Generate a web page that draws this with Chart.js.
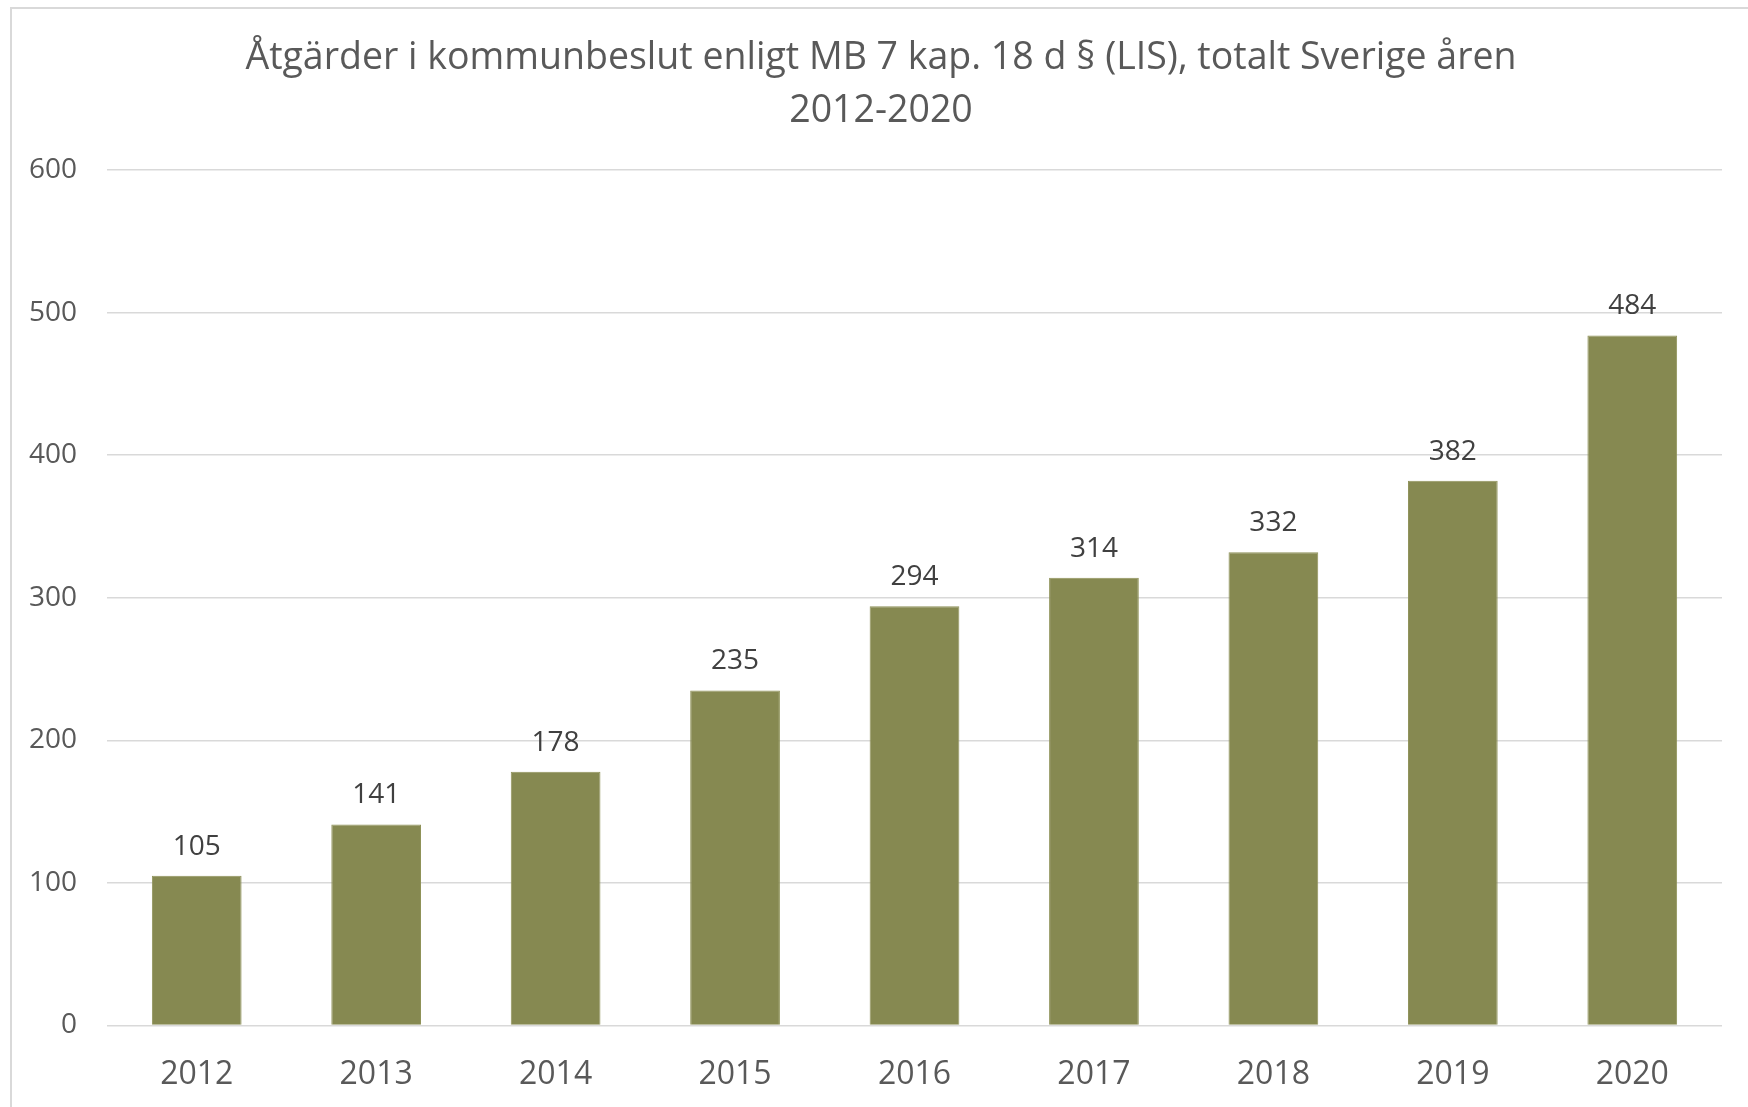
<!DOCTYPE html>
<html>
<head>
<meta charset="utf-8">
<script src="https://cdn.jsdelivr.net/npm/chart.js@4"></script>
<style>
  html, body { margin: 0; padding: 0; background: #ffffff; }
  #wrap { position: relative; width: 1748px; height: 1107px; overflow: hidden; }
  #frame { position: absolute; left: 10px; top: 7px; width: 1800px; height: 1200px;
           border-left: 2px solid #d9d9d9; border-top: 2px solid #d9d9d9; box-sizing: border-box; }
  canvas { position: absolute; left: 0; top: 0; }
</style>
</head>
<body>
<div id="wrap">
  <div id="frame"></div>
  <canvas id="c" width="1748" height="1107"></canvas>
</div>
<script>
const titleLines = ["Åtgärder i kommunbeslut enligt MB 7 kap. 18 d § (LIS), totalt Sverige åren", "2012-2020"];
const years = ["2012", "2013", "2014", "2015", "2016", "2017", "2018", "2019", "2020"];
const actions = [105, 141, 178, 235, 294, 314, 332, 382, 484];
const yTicks = [0, 100, 200, 300, 400, 500, 600];

Chart.defaults.font.family = "'Open Sans', 'Liberation Sans', sans-serif";

const valueLabels = {
  id: 'valueLabels',
  afterLayout(chart) {
    // let the y tick labels use the full left margin (no clipping at layout padding)
    chart.scales.y.left = 0;
  },
  afterDatasetsDraw(chart) {
    const ctx = chart.ctx;
    const meta = chart.getDatasetMeta(0);
    ctx.save();
    ctx.font = "28px 'Open Sans', 'Liberation Sans', sans-serif";
    ctx.fillStyle = '#404040';
    ctx.textAlign = 'center';
    ctx.textBaseline = 'middle';
    meta.data.forEach((bar, i) => {
      ctx.fillText(String(chart.data.datasets[0].data[i]), bar.x, bar.y - 29);
    });
    ctx.restore();
  }
};

new Chart(document.getElementById('c'), {
  type: 'bar',
  data: {
    labels: years,
    datasets: [{
      data: actions,
      backgroundColor: '#868951',
      borderColor: '#8f9259',
      borderWidth: 1,
      categoryPercentage: 1.0,
      barPercentage: 0.5
    }]
  },
  options: {
    responsive: false,
    devicePixelRatio: 1,
    animation: false,
    layout: { padding: { left: 40, right: 26, top: 0, bottom: 0 } },
    plugins: {
      legend: { display: false },
      tooltip: { enabled: false },
      title: {
        display: true,
        text: titleLines,
        color: '#595959',
        font: { size: 37.5, weight: 'normal', lineHeight: 1.427 },
        padding: { top: 31.5, bottom: 31.5 }
      }
    },
    scales: {
      x: {
        grid: { display: false, drawTicks: false },
        border: { display: false },
        ticks: { color: '#595959', font: { size: 32 }, padding: 30, maxRotation: 0 },
        afterFit(scale) { scale.height = 81.5; }
      },
      y: {
        min: 0,
        max: 600,
        afterBuildTicks(scale) { scale.ticks = yTicks.map(v => ({ value: v })); },
        grid: { color: '#d9d9d9', lineWidth: 1.5, drawTicks: false },
        border: { display: false },
        ticks: { color: '#595959', font: { size: 28 }, padding: 30 },
        afterFit(scale) { scale.width = 67; }
      }
    }
  },
  plugins: [valueLabels]
});
</script>
</body>
</html>
